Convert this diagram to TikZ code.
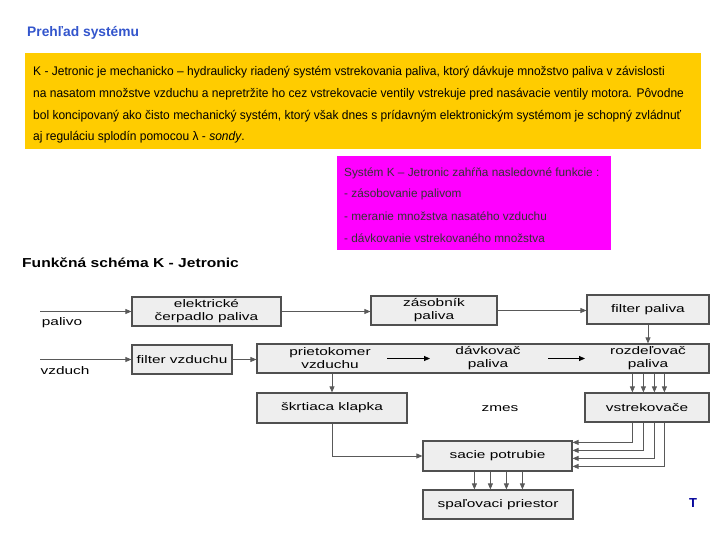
\documentclass[tikz,border=0pt]{standalone}
\usepackage{fontspec}
\setmainfont{Liberation Sans}
\newfontfamily\schemafont{Liberation Sans}[FakeStretch=1.4]
\newfontfamily\titlefont{Liberation Sans}[FakeStretch=1.2]
\newfontfamily\narrowfont{Liberation Sans}[FakeStretch=0.96]
\usetikzlibrary{arrows.meta}
\definecolor{zlta}{HTML}{FFCC00}
\definecolor{fialova}{HTML}{FF00FF}
\definecolor{nadpis}{HTML}{3355CC}
\definecolor{ramcek}{HTML}{505050}
\definecolor{vypln}{HTML}{EEEEEE}
\begin{document}
\begin{tikzpicture}[x=1pt, y=-1pt,
    box/.style={draw=ramcek, line width=1.2pt, fill=vypln, inner sep=0pt,
        align=center, font=\schemafont\fontsize{11}{13}\selectfont},
    arr/.style={draw=black!65, line width=0.8pt, -{Triangle[length=6pt,width=5pt]}},
    label/.style={font=\schemafont\fontsize{11}{13}\selectfont, inner sep=0pt},
    riadok/.style={anchor=west, inner sep=0pt, font=\narrowfont\fontsize{12.5}{14}\selectfont},
    funkcia/.style={anchor=west, inner sep=0pt, text=black!80, font=\fontsize{11.8}{14}\selectfont}]
    \useasboundingbox (0,0) rectangle (720,540);
    % hlavicka
    \node[anchor=west, inner sep=0pt, text=nadpis, font=\bfseries\fontsize{13.8}{15}\selectfont] (prehlad) at (27,33) {Prehľad systému};
    \node[fill=zlta, minimum width=676pt, minimum height=96pt, inner sep=0pt] (zlty) at (363,101) {};
    \node[riadok] (t1) at (33,72) {K - Jetronic je mechanicko – hydraulicky riadený  systém vstrekovania paliva,  ktorý dávkuje množstvo paliva v závislosti};
    \node[riadok] (t2) at (33,94) {na  nasatom množstve vzduchu a nepretržite ho cez vstrekovacie ventily vstrekuje pred nasávacie ventily motora. Pôvodne};
    \node[riadok] (t3) at (33,116) {bol koncipovaný ako čisto mechanický  systém, ktorý však dnes s prídavným elektronickým systémom je schopný zvládnuť};
    \node[riadok] (t4) at (33,137) {aj reguláciu splodín pomocou λ - \textit{sondy}.};
    \node[fill=fialova, minimum width=274pt, minimum height=94pt, inner sep=0pt] (fialovy) at (474,203) {};
    \node[funkcia] (f1) at (344,173) {Systém K – Jetronic zahŕňa nasledovné funkcie :};
    \node[funkcia] (f2) at (344,194) {- zásobovanie palivom};
    \node[funkcia] (f3) at (344,216) {- meranie množstva nasatého vzduchu};
    \node[funkcia] (f4) at (344,238) {- dávkovanie vstrekovaného množstva};
    % schema
    \node[anchor=west, inner sep=0pt, font=\titlefont\bfseries\fontsize{13}{15}\selectfont] (schema) at (22,263) {Funkčná schéma K - Jetronic};
    \node[box, minimum width=149pt, minimum height=29pt] (cerp) at (206.5,311.5) {elektrické\\čerpadlo paliva};
    \node[box, minimum width=100pt, minimum height=29pt] (filtv) at (182,359.5) {filter vzduchu};
    \node[box, minimum width=126pt, minimum height=29pt] (zas) at (434,310.5) {zásobník\\paliva};
    \node[box, minimum width=122pt, minimum height=29pt] (filtp) at (648,309.5) {filter paliva};
    \node[box, minimum width=452pt, minimum height=29pt] (rad) at (483,358.5) {};
    \node[label, align=center] (prietok) at (330,358.5) {prietokomer\\vzduchu};
    \node[label, align=center] (davk) at (488,358.5) {dávkovač\\paliva};
    \node[label, align=center] (rozdel) at (648,358.5) {rozdeľovač\\paliva};
    \node[box, minimum width=150pt, minimum height=30pt] (skrt) at (332,408) {škrtiaca klapka};
    \node[box, minimum width=124pt, minimum height=29pt] (vstrek) at (647,407.5) {vstrekovače};
    \node[box, minimum width=149pt, minimum height=30pt] (sacie) at (497.5,456) {sacie potrubie};
    \node[box, minimum width=150pt, minimum height=29pt] (spal) at (498,504.5) {spaľovaci priestor};
    \node[label] (zmes) at (500,409) {zmes};
    \coordinate (palin) at (40,311.5);
    \coordinate (vzdin) at (40,359.5);
    \node[label] (palivo) at (62,323) {palivo};
    \node[label] (vzduch) at (65,371) {vzduch};
    \node[inner sep=0pt, text=blue!60!black, font=\bfseries\fontsize{13}{15}\selectfont] (tlac) at (693,503) {T};
    % spoje
    \draw[arr] (palin) -- (cerp.west);
    \draw[arr] (vzdin) -- (filtv.west);
    \draw[arr] (filtv.east) -- (filtv.east -| rad.west);
    \draw[arr] (cerp.east) -- (cerp.east -| zas.west);
    \draw[arr] (zas.east) -- (zas.east -| filtp.west);
    \draw[arr] (filtp.south) -- (filtp.south |- rad.north);
    \draw[arr, draw=black] ([xshift=57pt]prietok.center) -- ([xshift=-58pt]davk.center);
    \draw[arr, draw=black] ([xshift=60pt]davk.center) -- ([xshift=-63pt]rozdel.center);
    \draw[arr] (skrt.north |- rad.south) -- (skrt.north);
    \draw[arr] (skrt.south) |- (sacie.west);
    \foreach \dx in {48,59,70,80}
        \draw[arr] ([xshift=\dx pt]vstrek.north west |- rad.south) -- ([xshift=\dx pt]vstrek.north west);
    \foreach \dx/\dy in {48/2,59/10,70/18,80/26}
        \draw[arr] ([xshift=\dx pt]vstrek.south west) |- ([yshift=-\dy pt]sacie.north east);
    \foreach \dx in {52,68,84,100}
        \draw[arr] ([xshift=\dx pt]sacie.south west) -- ([xshift=\dx pt]sacie.south west |- spal.north);
\end{tikzpicture}
\end{document}
